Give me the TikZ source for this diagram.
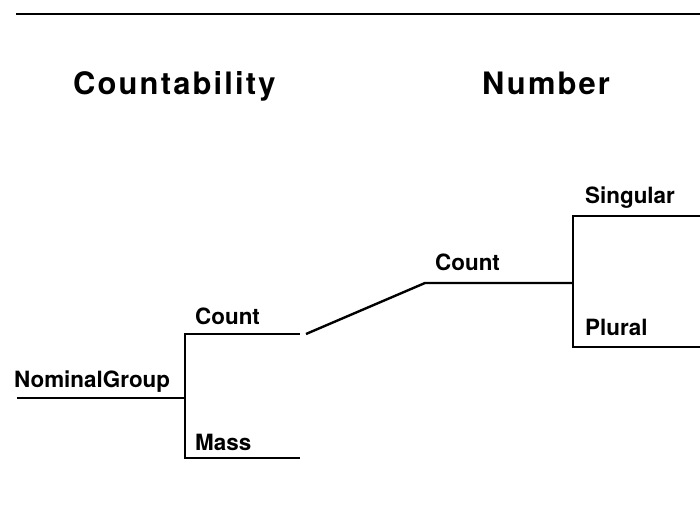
\documentclass[tikz,border=0pt]{standalone}
\usepackage{fontspec}
\setmainfont{TeX Gyre Heros}
\usetikzlibrary{positioning}

\begin{document}
\begin{tikzpicture}[x=1bp, y=-1bp,
  head/.style={font=\fontsize{31}{36}\selectfont\bfseries\addfontfeature{LetterSpace=7}, inner sep=0pt, anchor=base west},
  lbl/.style={font=\fontsize{22.5}{26}\selectfont\bfseries, inner sep=0pt, anchor=base west},
  sys/.style={line width=2.4pt, line cap=butt},
  rule/.style={line width=2.8pt}
]
\useasboundingbox (0,0) rectangle (700,512);
% rule and column headings
\coordinate (rl) at (16,14);
\coordinate (rr) at (700,14);
\draw[rule] (rl) -- (rr);
\node[head] (hcount) at (73,95) {Countability};
\node[head] (hnum) at (482,95) {Number};

% countability system
\coordinate (ng) at (17,398);
\coordinate (cbar) at (185,398);
\coordinate (cnt) at (185,334);
\coordinate (mss) at (185,458);
\coordinate (cntend) at (300,334);
\coordinate (mssend) at (300,458);
\draw[sys] (ng) -- (cbar);
\draw[sys] (cntend) -- (cnt) -- (mss) -- (mssend);
\node[lbl] (lng) at (14,387) {NominalGroup};
\node[lbl] (lcnt) at (195,324) {Count};
\node[lbl] (lmss) at (195,450) {Mass};

% entry condition for number
\coordinate (nin) at (306,334);
\coordinate (nst) at (425,283);
\coordinate (nbar) at (573,283);
\draw[sys] (nin) -- (nst) -- (nbar);
\node[lbl] (lcnt2) at (435,271) {Count};

% number system
\coordinate (sng) at (573,216);
\coordinate (plr) at (573,347);
\coordinate (sngend) at (700,216);
\coordinate (plrend) at (700,347);
\draw[sys] (sngend) -- (sng) -- (plr) -- (plrend);
\node[lbl] (lsng) at (585,204) {Singular};
\node[lbl] (lplr) at (585,335) {Plural};
\end{tikzpicture}
\end{document}
